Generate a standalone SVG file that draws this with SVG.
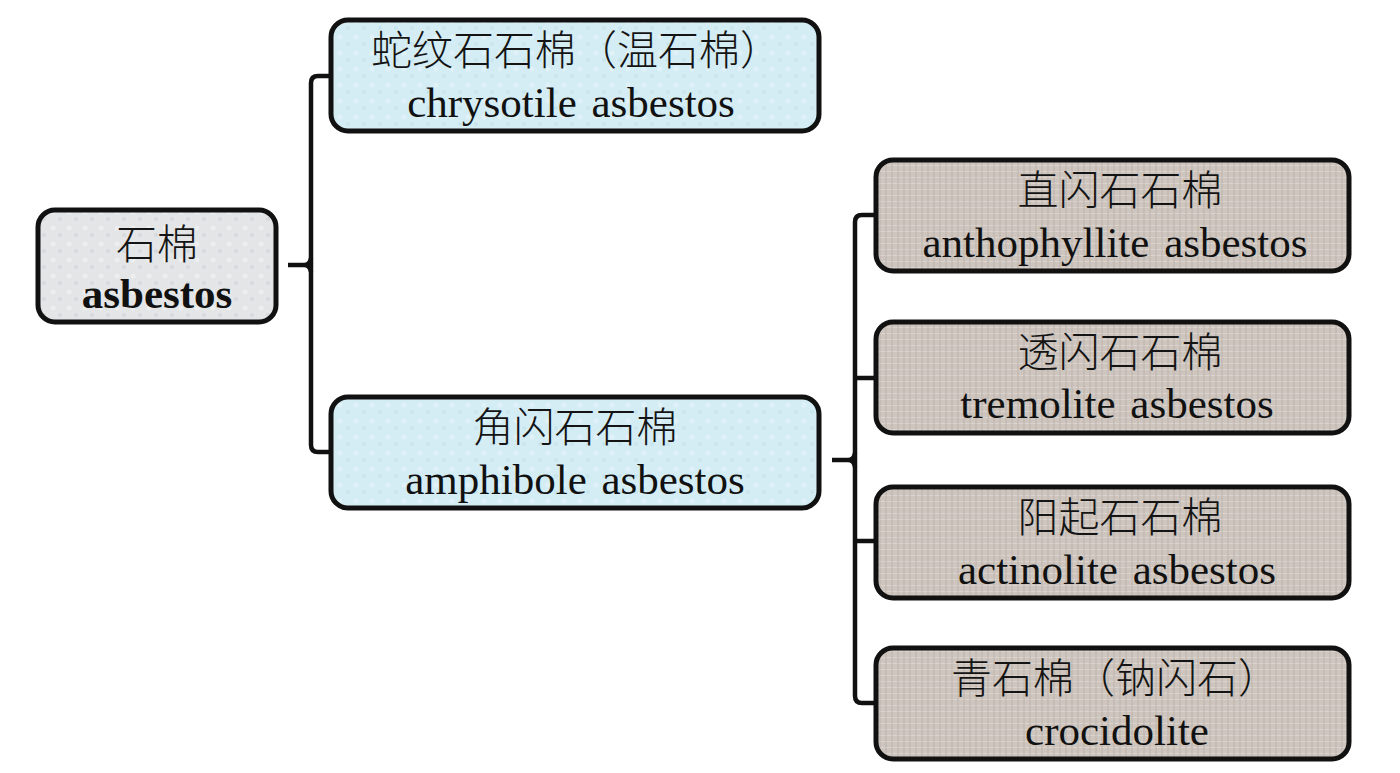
<svg xmlns="http://www.w3.org/2000/svg" width="1400" height="773" viewBox="0 0 1400 773">
  <defs>
    <pattern id="texLeaf" width="12" height="12" patternUnits="userSpaceOnUse">
      <rect width="12" height="12" fill="#cdc5be"/>
      <path d="M0 3.5H12M0 9.5H12" stroke="#dbd4ce" stroke-width="1.2"/>
      <path d="M4 0V12M10 0V12" stroke="#bdb4ac" stroke-width="1"/>
    </pattern>
    <pattern id="texBlue" width="16" height="16" patternUnits="userSpaceOnUse">
      <rect width="16" height="16" fill="#d4edf4"/>
      <circle cx="4" cy="5" r="2.5" fill="#e0f2f8"/>
      <circle cx="12" cy="12" r="2" fill="#c8e5ee"/>
    </pattern>
    <pattern id="texGray" width="16" height="16" patternUnits="userSpaceOnUse">
      <rect width="16" height="16" fill="#e3e5e7"/>
      <circle cx="5" cy="4" r="2.5" fill="#eceeef"/>
      <circle cx="12" cy="11" r="2" fill="#d7dadc"/>
    </pattern>
  </defs>
  <style>
    .box { stroke: #111111; stroke-width: 5; }
    .conn { fill: none; stroke: #111111; stroke-width: 4.5; stroke-linejoin: round; stroke-linecap: butt; }
    .cjk { font-family: "Noto Sans CJK SC", sans-serif; font-size: 41px; fill: #141414; text-anchor: middle; font-weight: 300; }
    .en { font-family: "Liberation Serif", serif; font-size: 43px; fill: #111111; text-anchor: middle; word-spacing: 4px; }
    .enb { font-family: "Liberation Serif", serif; font-size: 43px; fill: #111111; text-anchor: middle; font-weight: bold; }
  </style>
  <rect width="1400" height="773" fill="#ffffff"/>

  <g id="connectors">
    <path class="conn" d="M288 265 H304 Q310 265 311 258 M304 265 Q310 265 311 272"/>
    <path class="conn" d="M331 76 H318 Q311 76 311 83 V445 Q311 452 318 452 H331"/>
    <path class="conn" d="M832 460 H848 Q854 460 855 453 M848 460 Q854 460 855 467"/>
    <path class="conn" d="M876 215 H862 Q855 215 855 222 V696 Q855 703 862 703 H876"/>
    <path class="conn" d="M855 378 H876 M855 541 H876"/>
  </g>

  <g id="node-asbestos">
    <rect class="box" x="38" y="210" width="238" height="112" rx="17" fill="url(#texGray)"/>
    <text class="cjk" x="157" y="259">石棉</text>
    <text class="enb" x="157" y="308">asbestos</text>
  </g>

  <g id="node-chrysotile">
    <rect class="box" x="331" y="20" width="488" height="111" rx="17" fill="url(#texBlue)"/>
    <text class="cjk" x="576" y="65">蛇纹石石棉（温石棉）</text>
    <text class="en" x="571" y="117">chrysotile asbestos</text>
  </g>

  <g id="node-amphibole">
    <rect class="box" x="331" y="397" width="488" height="111" rx="17" fill="url(#texBlue)"/>
    <text class="cjk" x="575" y="442">角闪石石棉</text>
    <text class="en" x="575" y="494">amphibole asbestos</text>
  </g>

  <g id="node-anthophyllite">
    <rect class="box" x="876" y="160" width="473" height="111" rx="17" fill="url(#texLeaf)"/>
    <text class="cjk" x="1120" y="205">直闪石石棉</text>
    <text class="en" x="1115" y="257">anthophyllite asbestos</text>
  </g>

  <g id="node-tremolite">
    <rect class="box" x="876" y="322" width="473" height="111" rx="17" fill="url(#texLeaf)"/>
    <text class="cjk" x="1120" y="367">透闪石石棉</text>
    <text class="en" x="1117" y="418">tremolite asbestos</text>
  </g>

  <g id="node-actinolite">
    <rect class="box" x="876" y="487" width="473" height="111" rx="17" fill="url(#texLeaf)"/>
    <text class="cjk" x="1120" y="532">阳起石石棉</text>
    <text class="en" x="1117" y="584">actinolite asbestos</text>
  </g>

  <g id="node-crocidolite">
    <rect class="box" x="876" y="648" width="473" height="111" rx="17" fill="url(#texLeaf)"/>
    <text class="cjk" x="1115" y="693">青石棉（钠闪石）</text>
    <text class="en" x="1117" y="745">crocidolite</text>
  </g>
</svg>
